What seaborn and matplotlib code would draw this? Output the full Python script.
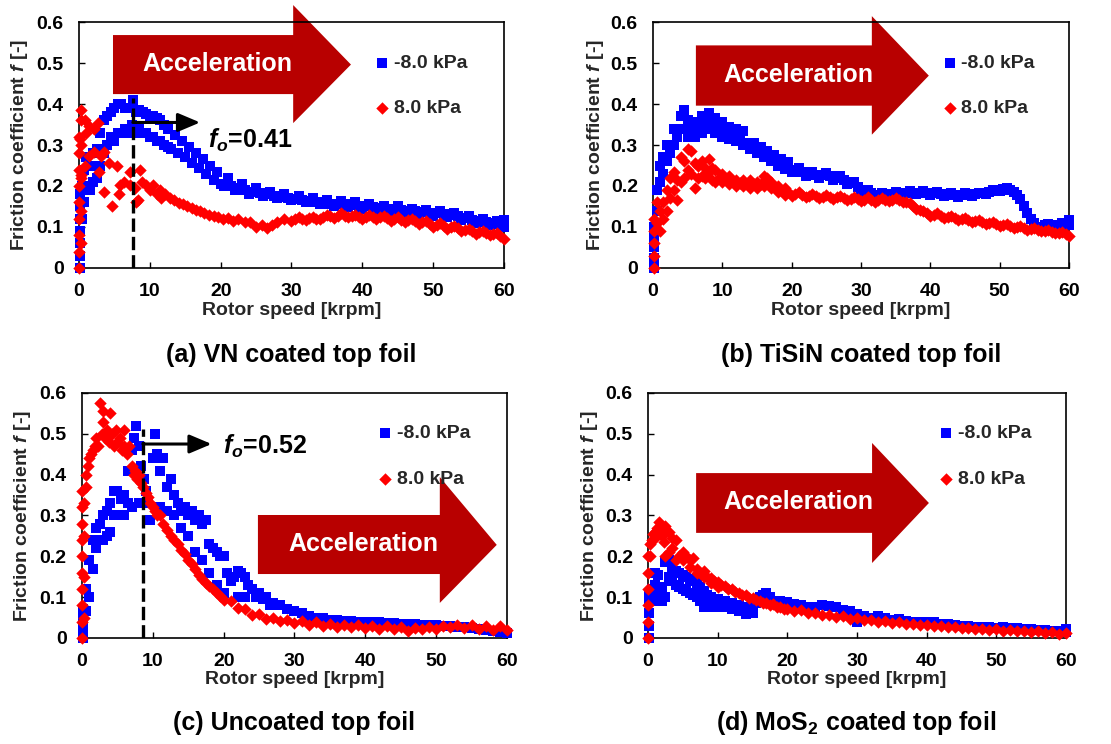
import pandas as pd
import seaborn as sns
import matplotlib.pyplot as plt
from matplotlib.patches import Polygon

# ---- data: (rotor speed [krpm], friction coefficient) ----
vn_neg = [(0.1, 0.0), (0.1, 0.03), (0.1, 0.06), (0.1, 0.09), (0.1, 0.12), (0.1, 0.15), (0.1, 0.18),
          (0.4, 0.12), (0.4, 0.2), (0.7, 0.16), (0.7, 0.24), (1.0, 0.2), (1.0, 0.27), (1.5, 0.19), (1.5, 0.25),
          (2.0, 0.21), (2.0, 0.28), (2.5, 0.22), (2.5, 0.29), (3.0, 0.25), (3.0, 0.33), (3.5, 0.28), (3.5, 0.36),
          (4.0, 0.3), (4.0, 0.37), (4.5, 0.32), (4.5, 0.38), (5.0, 0.31), (5.0, 0.39), (5.5, 0.33), (5.5, 0.4),
          (6.0, 0.33), (6.0, 0.4), (6.5, 0.34), (6.5, 0.39), (7.0, 0.33), (7.0, 0.39), (7.5, 0.35), (7.6, 0.41),
          (8.0, 0.33), (8.0, 0.38), (8.5, 0.34), (8.5, 0.385), (9.0, 0.33), (9.0, 0.38), (9.5, 0.33), (9.5, 0.375),
          (10.0, 0.32), (10.0, 0.37), (10.5, 0.32), (10.5, 0.37), (11.0, 0.31), (11.0, 0.365), (11.5, 0.31),
          (11.5, 0.36), (12.0, 0.3), (12.0, 0.35), (12.5, 0.295), (12.5, 0.34), (13.0, 0.29), (13.5, 0.325),
          (14.0, 0.28), (14.5, 0.31), (15.0, 0.27), (15.5, 0.295), (16.0, 0.255), (16.5, 0.28), (17.0, 0.245),
          (17.5, 0.265), (18.0, 0.23), (18.5, 0.25), (19.0, 0.215), (19.5, 0.235), (20.0, 0.205), (21, 0.22),
          (22, 0.19), (23, 0.205), (24, 0.18), (25, 0.195), (26, 0.175), (27, 0.185), (28, 0.17), (29, 0.18),
          (30, 0.165), (31, 0.175), (32, 0.16), (33, 0.17), (34, 0.155), (35, 0.165), (36, 0.15), (37, 0.163),
          (38, 0.148), (39, 0.16), (40, 0.145), (41, 0.155), (42, 0.14), (43, 0.152), (44, 0.138), (45, 0.15),
          (46, 0.135), (47, 0.145), (48, 0.13), (49, 0.142), (50, 0.128), (51, 0.14), (52, 0.125), (53, 0.133),
          (54, 0.118), (55, 0.127), (56, 0.11), (57, 0.12), (58, 0.105), (59, 0.115), (60, 0.1), (60, 0.118),
          (20.5, 0.2), (21.5, 0.2), (22.5, 0.195), (23.5, 0.19), (24.5, 0.185), (25.5, 0.182), (26.5, 0.18),
          (27.5, 0.176), (28.5, 0.173), (29.5, 0.17), (30.5, 0.168), (31.5, 0.166), (32.5, 0.163), (33.5, 0.16),
          (34.5, 0.16), (35.5, 0.157), (36.5, 0.156), (37.5, 0.155), (38.5, 0.153), (39.5, 0.15), (40.5, 0.15),
          (41.5, 0.148), (42.5, 0.146), (43.5, 0.145), (44.5, 0.143), (45.5, 0.142), (46.5, 0.14), (47.5, 0.138),
          (48.5, 0.136), (49.5, 0.135), (50.5, 0.133), (51.5, 0.132), (52.5, 0.13), (53.5, 0.126), (54.5, 0.122),
          (55.5, 0.118), (56.5, 0.115), (57.5, 0.112), (58.5, 0.11), (59.5, 0.108)]
vn_pos = [(0.05, 0.0), (0.05, 0.04), (0.05, 0.08), (0.05, 0.12), (0.05, 0.16), (0.05, 0.2), (0.05, 0.24),
          (0.05, 0.28), (0.05, 0.32), (0.25, 0.06), (0.25, 0.14), (0.25, 0.22), (0.25, 0.3), (0.25, 0.36),
          (0.1, 0.314), (0.32, 0.386), (0.32, 0.226), (0.78, 0.362), (0.78, 0.25), (1.0, 0.33), (1.47, 0.346),
          (1.47, 0.274), (2.17, 0.338), (2.17, 0.282), (2.63, 0.354), (2.86, 0.234), (3.1, 0.274), (3.55, 0.282),
          (3.55, 0.186), (4.2, 0.255), (4.7, 0.15), (5.4, 0.25), (5.6, 0.18), (5.85, 0.202), (6.3, 0.21),
          (7.2, 0.234), (7.2, 0.202), (7.9, 0.194), (8.1, 0.162), (8.4, 0.166), (8.6, 0.24), (8.85, 0.21),
          (9.5, 0.202), (10.0, 0.19), (10.5, 0.202), (11.0, 0.18), (11.4, 0.19), (11.6, 0.17), (12.2, 0.18),
          (12.8, 0.17), (13.4, 0.165), (14.1, 0.158), (14.7, 0.155), (15.3, 0.15), (15.9, 0.147), (16.5, 0.142),
          (17.1, 0.14), (17.7, 0.133), (18.3, 0.13), (19.0, 0.127), (19.6, 0.124), (20.3, 0.12), (21.0, 0.123),
          (21.7, 0.115), (22.5, 0.12), (23.4, 0.112), (24.2, 0.113), (25.0, 0.1), (25.8, 0.105), (26.5, 0.097),
          (27.3, 0.105), (28.0, 0.113), (29.0, 0.12), (30, 0.115), (31, 0.125), (32, 0.117), (33, 0.125),
          (34, 0.12), (35, 0.13), (36, 0.122), (37, 0.133), (38, 0.125), (39, 0.13), (40, 0.12), (41, 0.13),
          (42, 0.12), (43, 0.128), (44, 0.115), (45, 0.125), (46, 0.113), (47, 0.12), (48, 0.108), (49, 0.115),
          (50, 0.1), (51, 0.11), (52, 0.095), (53, 0.103), (54, 0.09), (55, 0.095), (56, 0.083), (57, 0.09),
          (58, 0.08), (59, 0.085), (60, 0.07),
          (30.5, 0.12), (31.5, 0.12), (32.5, 0.122), (33.5, 0.12), (34.5, 0.125), (35.5, 0.126), (36.5, 0.128),
          (37.5, 0.128), (38.5, 0.127), (39.5, 0.125), (40.5, 0.125), (41.5, 0.125), (42.5, 0.124),
          (43.5, 0.122), (44.5, 0.12), (45.5, 0.118), (46.5, 0.117), (47.5, 0.114), (48.5, 0.112), (49.5, 0.107),
          (50.5, 0.105), (51.5, 0.102), (52.5, 0.1), (53.5, 0.097), (54.5, 0.093), (55.5, 0.09), (56.5, 0.087),
          (57.5, 0.085), (58.5, 0.082), (59.5, 0.078)]

tisin_neg = [(0.1, 0.0), (0.1, 0.025), (0.1, 0.05), (0.1, 0.075), (0.1, 0.1), (0.5, 0.14), (0.5, 0.19),
             (1.0, 0.21), (1.0, 0.25), (1.5, 0.23), (1.5, 0.27), (2.0, 0.26), (2.0, 0.3), (2.5, 0.28), (3.0, 0.3),
             (3.0, 0.34), (3.5, 0.32), (4.0, 0.34), (4.0, 0.37), (4.5, 0.385), (5.0, 0.32), (5.0, 0.36),
             (5.5, 0.34), (6.0, 0.32), (6.0, 0.355), (6.5, 0.34), (7.0, 0.33), (7.0, 0.37), (7.5, 0.35),
             (8.0, 0.34), (8.0, 0.378), (8.5, 0.36), (9.0, 0.33), (9.0, 0.365), (9.5, 0.345), (10.0, 0.32),
             (10.0, 0.355), (10.5, 0.34), (11.0, 0.315), (11.0, 0.345), (11.5, 0.33), (12.0, 0.31), (12.0, 0.34),
             (12.5, 0.32), (13.0, 0.3), (13.0, 0.335), (13.5, 0.305), (14.0, 0.29), (14.5, 0.305), (15.0, 0.28),
             (15.5, 0.295), (16.0, 0.27), (16.5, 0.285), (17.0, 0.26), (17.5, 0.275), (18.0, 0.25), (18.5, 0.265),
             (19.0, 0.242), (19.5, 0.258), (20.0, 0.235), (21, 0.245), (22, 0.225), (23, 0.235), (24, 0.22),
             (25, 0.232), (26, 0.215), (27, 0.225), (28, 0.205), (29, 0.21), (30, 0.185), (31, 0.19), (32, 0.175),
             (33, 0.183), (34, 0.175), (35, 0.185), (36, 0.178), (37, 0.187), (38, 0.18), (39, 0.188), (40, 0.178),
             (41, 0.186), (42, 0.175), (43, 0.182), (44, 0.174), (45, 0.182), (46, 0.176), (47, 0.184), (48, 0.18),
             (49, 0.19), (50, 0.188), (51, 0.196), (52, 0.185), (53, 0.168), (53.5, 0.15), (54, 0.135),
             (54.5, 0.12), (55, 0.11), (55.5, 0.1), (56, 0.1), (57, 0.108), (58, 0.1), (59, 0.11), (60, 0.105),
             (60, 0.118),
             (20.5, 0.24), (21.5, 0.235), (22.5, 0.23), (23.5, 0.228), (24.5, 0.226), (25.5, 0.224), (26.5, 0.22),
             (27.5, 0.215), (28.5, 0.208), (29.5, 0.197), (30.5, 0.188), (31.5, 0.182), (32.5, 0.179),
             (33.5, 0.179), (34.5, 0.18), (35.5, 0.181), (36.5, 0.182), (37.5, 0.183), (38.5, 0.184),
             (39.5, 0.183), (40.5, 0.182), (41.5, 0.18), (42.5, 0.178), (43.5, 0.178), (44.5, 0.178),
             (45.5, 0.179), (46.5, 0.18), (47.5, 0.182), (48.5, 0.185), (49.5, 0.189), (50.5, 0.192),
             (51.5, 0.19), (52.5, 0.177), (56.5, 0.104), (57.5, 0.104), (58.5, 0.105), (59.5, 0.108)]
tisin_pos = [(0.1, 0.0), (0.1, 0.03), (0.1, 0.06), (0.1, 0.09), (0.1, 0.12), (0.5, 0.11), (0.5, 0.16),
             (1.0, 0.09), (1.0, 0.14), (1.5, 0.12), (1.5, 0.16), (2.0, 0.14), (2.0, 0.19), (2.5, 0.17), (2.5, 0.22),
             (3.0, 0.19), (3.0, 0.235), (3.5, 0.165), (3.5, 0.215), (4.0, 0.21), (4.0, 0.27), (4.5, 0.22),
             (4.5, 0.26), (5.0, 0.24), (5.0, 0.29), (5.5, 0.23), (5.5, 0.285), (6.0, 0.195), (6.0, 0.255),
             (6.5, 0.22), (6.5, 0.25), (7.0, 0.225), (7.0, 0.26), (7.5, 0.22), (7.5, 0.245), (8.0, 0.235),
             (8.0, 0.265), (8.5, 0.215), (8.5, 0.245), (9.0, 0.21), (9.0, 0.24), (9.5, 0.22), (10.0, 0.21),
             (10.0, 0.23), (10.5, 0.215), (11.0, 0.205), (11.0, 0.225), (11.5, 0.21), (12.0, 0.2), (12.0, 0.215),
             (12.5, 0.208), (13.0, 0.2), (13.0, 0.215), (13.5, 0.205), (14.0, 0.195), (14.0, 0.215), (14.5, 0.205),
             (15.0, 0.195), (15.0, 0.21), (15.5, 0.205), (16.0, 0.2), (16.0, 0.225), (16.5, 0.22), (17.0, 0.195),
             (17.0, 0.21), (17.5, 0.2), (18.0, 0.185), (18.0, 0.2), (18.5, 0.19), (19.0, 0.178), (19.0, 0.195),
             (19.5, 0.185), (20, 0.175), (21, 0.185), (22, 0.172), (23, 0.18), (24, 0.17), (25, 0.178),
             (26, 0.168), (27, 0.175), (28, 0.165), (29, 0.173), (30, 0.163), (31, 0.172), (32, 0.162), (33, 0.17),
             (34, 0.163), (35, 0.17), (36, 0.16), (37, 0.158), (38, 0.145), (39, 0.14), (40, 0.128), (41, 0.133),
             (42, 0.122), (43, 0.127), (44, 0.118), (45, 0.122), (46, 0.113), (47, 0.118), (48, 0.108),
             (49, 0.112), (50, 0.103), (51, 0.107), (52, 0.098), (53, 0.102), (54, 0.093), (55, 0.097), (56, 0.09),
             (57, 0.093), (58, 0.085), (59, 0.088), (60, 0.078),
             (20.5, 0.18), (21.5, 0.178), (22.5, 0.176), (23.5, 0.175), (24.5, 0.174), (25.5, 0.173),
             (26.5, 0.172), (27.5, 0.17), (28.5, 0.169), (29.5, 0.168), (30.5, 0.167), (31.5, 0.167),
             (32.5, 0.166), (33.5, 0.166), (34.5, 0.166), (35.5, 0.165), (36.5, 0.16), (37.5, 0.152),
             (38.5, 0.142), (39.5, 0.134), (40.5, 0.13), (41.5, 0.127), (42.5, 0.124), (43.5, 0.122), (44.5, 0.12),
             (45.5, 0.117), (46.5, 0.115), (47.5, 0.113), (48.5, 0.11), (49.5, 0.107), (50.5, 0.105),
             (51.5, 0.102), (52.5, 0.1), (53.5, 0.098), (54.5, 0.095), (55.5, 0.093), (56.5, 0.091),
             (57.5, 0.089), (58.5, 0.086), (59.5, 0.083)]

uncoated_neg = [(0.1, 0.0), (0.1, 0.025), (0.1, 0.05), (0.1, 0.07), (0.5, 0.065), (0.5, 0.12), (1.0, 0.1),
                (1.0, 0.19), (1.5, 0.17), (1.5, 0.24), (2.0, 0.22), (2.0, 0.27), (2.5, 0.24), (2.5, 0.28),
                (3.0, 0.24), (3.0, 0.3), (3.5, 0.25), (3.5, 0.31), (4.0, 0.26), (4.0, 0.33), (4.5, 0.3), (4.5, 0.36),
                (5.0, 0.3), (5.0, 0.36), (5.5, 0.3), (5.5, 0.34), (6.0, 0.3), (6.0, 0.35), (6.5, 0.33), (6.5, 0.41),
                (7.0, 0.32), (7.0, 0.46), (7.3, 0.49), (7.6, 0.52), (8.0, 0.33), (8.0, 0.47), (8.3, 0.42),
                (8.7, 0.39), (9.0, 0.36), (9.3, 0.33), (9.6, 0.29), (10.0, 0.44), (10.3, 0.5), (10.6, 0.45),
                (11.0, 0.41), (11.0, 0.32), (11.5, 0.44), (12.0, 0.37), (12.0, 0.31), (12.5, 0.39), (13.0, 0.35),
                (13.0, 0.3), (13.5, 0.33), (14.0, 0.31), (14.0, 0.27), (14.5, 0.32), (15.0, 0.3), (15.0, 0.25),
                (15.5, 0.31), (16.0, 0.29), (16.0, 0.21), (16.5, 0.3), (17.0, 0.28), (17.0, 0.19), (17.5, 0.29),
                (18.0, 0.23), (18.0, 0.16), (18.5, 0.22), (19.0, 0.21), (19.0, 0.13), (19.5, 0.2), (20.0, 0.2),
                (20.0, 0.11), (20.5, 0.16), (21.0, 0.14), (21.5, 0.15), (22.0, 0.165), (22.0, 0.1), (22.5, 0.16),
                (23.0, 0.15), (23.0, 0.1), (23.5, 0.13), (24.0, 0.12), (24.5, 0.1), (25.0, 0.11), (25.5, 0.095),
                (26.0, 0.1), (26.5, 0.08), (27.0, 0.085), (28, 0.08), (29, 0.07), (30, 0.065), (31, 0.06),
                (32, 0.055), (33, 0.05), (34, 0.05), (35, 0.045), (36, 0.045), (37, 0.042), (38, 0.042), (39, 0.04),
                (40, 0.04), (41, 0.038), (42, 0.038), (43, 0.036), (44, 0.036), (45, 0.035), (46, 0.034),
                (47, 0.034), (48, 0.033), (49, 0.032), (50, 0.032), (51, 0.03), (52, 0.03), (53, 0.028), (54, 0.027),
                (55, 0.025), (56, 0.023), (57, 0.02), (58, 0.018), (59, 0.015), (60, 0.012)]
uncoated_pos = [(0.05, 0.0), (0.05, 0.04), (0.05, 0.08), (0.05, 0.12), (0.05, 0.16), (0.05, 0.2), (0.05, 0.24),
                (0.05, 0.28), (0.05, 0.32), (0.05, 0.36), (0.3, 0.05), (0.3, 0.15), (0.3, 0.25), (0.3, 0.33),
                (0.5, 0.37), (0.5, 0.4), (0.8, 0.42), (1.0, 0.44), (1.3, 0.45), (1.5, 0.46), (1.8, 0.47), (2.0, 0.49),
                (2.3, 0.47), (2.5, 0.575), (2.8, 0.5), (3.0, 0.555), (3.0, 0.53), (3.3, 0.49), (3.5, 0.51),
                (3.8, 0.48), (4.0, 0.55), (4.0, 0.5), (4.3, 0.5), (4.5, 0.47), (4.8, 0.51), (5.0, 0.48), (5.3, 0.49),
                (5.6, 0.46), (6.0, 0.51), (6.0, 0.47), (6.3, 0.45), (6.6, 0.47), (7.0, 0.42), (7.3, 0.4), (7.5, 0.41),
                (7.8, 0.39), (8.0, 0.4), (8.3, 0.38), (8.6, 0.37), (9.0, 0.355), (9.3, 0.345), (9.6, 0.33),
                (10.0, 0.32), (10.3, 0.31), (10.6, 0.3), (11.0, 0.3), (11.5, 0.28), (12.0, 0.265), (12.5, 0.25),
                (13.0, 0.24), (13.5, 0.23), (14.0, 0.215), (14.5, 0.205), (15.0, 0.19), (15.5, 0.18), (16.0, 0.17),
                (16.5, 0.155), (17.0, 0.145), (17.5, 0.135), (18.0, 0.128), (18.5, 0.12), (19.0, 0.11),
                (19.5, 0.102), (20.0, 0.093), (21, 0.09), (22, 0.074), (23, 0.07), (24, 0.056), (25, 0.058),
                (26, 0.046), (27, 0.05), (28, 0.041), (29, 0.045), (30, 0.036), (31, 0.041), (32, 0.033), (33, 0.038),
                (34, 0.03), (35, 0.035), (36, 0.028), (37, 0.033), (38, 0.026), (39, 0.031), (40, 0.025), (41, 0.03),
                (42, 0.022), (43, 0.029), (44, 0.021), (45, 0.026), (46, 0.018), (47, 0.024), (48, 0.021),
                (49, 0.028), (50, 0.022), (51, 0.03), (52, 0.027), (53, 0.033), (54, 0.025), (55, 0.032),
                (56, 0.022), (57, 0.03), (58, 0.02), (59, 0.029), (60, 0.02)]

mos2_neg = [(0.1, 0.0), (0.1, 0.03), (0.1, 0.06), (0.1, 0.09), (0.1, 0.11), (0.5, 0.09), (0.5, 0.12), (1.0, 0.13),
            (1.0, 0.16), (1.5, 0.1), (1.5, 0.155), (2.0, 0.09), (2.0, 0.125), (2.5, 0.1), (2.5, 0.185), (3.0, 0.15),
            (3.0, 0.19), (3.5, 0.14), (3.5, 0.175), (4.0, 0.13), (4.0, 0.165), (4.5, 0.125), (4.5, 0.16),
            (5.0, 0.12), (5.0, 0.155), (5.5, 0.115), (5.5, 0.15), (6.0, 0.11), (6.0, 0.145), (6.5, 0.105),
            (6.5, 0.14), (7.0, 0.1), (7.0, 0.135), (7.5, 0.09), (7.5, 0.125), (8.0, 0.075), (8.0, 0.115),
            (8.5, 0.08), (8.5, 0.105), (9.0, 0.075), (9.0, 0.1), (9.5, 0.08), (10.0, 0.075), (10.0, 0.095),
            (10.5, 0.08), (11.0, 0.075), (11.0, 0.09), (11.5, 0.08), (12.0, 0.07), (12.0, 0.085), (12.5, 0.075),
            (13.0, 0.065), (13.0, 0.08), (13.5, 0.07), (14.0, 0.058), (14.0, 0.075), (14.5, 0.065), (15.0, 0.06),
            (15.5, 0.085), (16.0, 0.1), (16.5, 0.105), (17.0, 0.11), (17.5, 0.1), (18.0, 0.09), (18.5, 0.085),
            (19.0, 0.09), (19.5, 0.082), (20.0, 0.088), (21, 0.082), (22, 0.08), (23, 0.075), (24, 0.075),
            (25, 0.08), (26, 0.078), (27, 0.075), (28, 0.068), (29, 0.065), (30, 0.04), (30, 0.058), (31, 0.055),
            (32, 0.05), (33, 0.055), (34, 0.048), (35, 0.045), (36, 0.047), (37, 0.042), (38, 0.04), (39, 0.04),
            (40, 0.038), (41, 0.038), (42, 0.035), (43, 0.035), (44, 0.032), (45, 0.03), (46, 0.03), (47, 0.028),
            (48, 0.028), (49, 0.027), (50, 0.025), (51, 0.026), (52, 0.024), (53, 0.024), (54, 0.022),
            (55, 0.022), (56, 0.02), (57, 0.02), (58, 0.018), (59, 0.018), (60, 0.015), (60, 0.022)]
mos2_pos = [(0.05, 0.0), (0.05, 0.04), (0.05, 0.08), (0.05, 0.12), (0.05, 0.16), (0.05, 0.2), (0.3, 0.2),
            (0.3, 0.23), (0.5, 0.24), (0.7, 0.255), (1.0, 0.26), (1.0, 0.245), (1.3, 0.27), (1.6, 0.285),
            (2.0, 0.27), (2.0, 0.25), (2.3, 0.235), (2.5, 0.275), (2.5, 0.2), (3.0, 0.26), (3.0, 0.21),
            (3.5, 0.245), (3.5, 0.22), (4.0, 0.24), (4.0, 0.19), (4.5, 0.2), (5.0, 0.21), (5.0, 0.19), (5.5, 0.2),
            (6.0, 0.19), (6.0, 0.175), (6.5, 0.195), (7.0, 0.17), (7.0, 0.16), (7.5, 0.16), (8.0, 0.165),
            (8.0, 0.15), (8.5, 0.15), (9.0, 0.148), (9.0, 0.135), (9.5, 0.14), (10.0, 0.138), (10.0, 0.125),
            (10.5, 0.13), (11.0, 0.128), (11.5, 0.12), (12.0, 0.12), (12.5, 0.112), (13.0, 0.11), (13.5, 0.105),
            (14.0, 0.105), (14.5, 0.098), (15.0, 0.097), (15.5, 0.092), (16.0, 0.09), (16.5, 0.085), (17.0, 0.086),
            (17.5, 0.08), (18.0, 0.082), (18.5, 0.077), (19.0, 0.077), (19.5, 0.072), (20.0, 0.072), (21, 0.066),
            (22, 0.068), (23, 0.062), (24, 0.062), (25, 0.056), (26, 0.057), (27, 0.052), (28, 0.053),
            (29, 0.047), (30, 0.048), (31, 0.043), (32, 0.045), (33, 0.04), (34, 0.041), (35, 0.037), (36, 0.038),
            (37, 0.034), (38, 0.035), (39, 0.031), (40, 0.032), (41, 0.029), (42, 0.03), (43, 0.026), (44, 0.028),
            (45, 0.024), (46, 0.025), (47, 0.022), (48, 0.023), (49, 0.02), (50, 0.021), (51, 0.018), (52, 0.02),
            (53, 0.017), (54, 0.018), (55, 0.015), (56, 0.016), (57, 0.013), (58, 0.015), (59, 0.01), (60, 0.012)]

titles = ['(a) VN coated top foil', '(b) TiSiN coated top foil',
          '(c) Uncoated top foil', '(d) MoS$_2$ coated top foil']
series_labels = ['-8.0 kPa', '8.0 kPa']
y_ticks = [0, 0.1, 0.2, 0.3, 0.4, 0.5, 0.6]
y_tick_labels = ['0', '0.1', '0.2', '0.3', '0.4', '0.5', '0.6']
x_ticks = [0, 10, 20, 30, 40, 50, 60]

# ---- style ----
sns.set_theme(style='ticks')
plt.rcParams['font.family'] = ['Liberation Sans', 'DejaVu Sans']
plt.rcParams['font.weight'] = 'bold'
plt.rcParams['mathtext.fontset'] = 'custom'
plt.rcParams['mathtext.rm'] = 'Liberation Sans:bold'
plt.rcParams['mathtext.it'] = 'Liberation Sans:bold:italic'
plt.rcParams['mathtext.bf'] = 'Liberation Sans:bold'

ARROW_RED = '#B80000'

# panel layout: axes rect, big arrow (body left, body right, tip x, body top, body bottom,
# head top, head bottom, tip y) and its text position, all in axes fractions
layout = [
    dict(rect=[0.0711, 0.6398, 0.3825, 0.3306], data=(vn_neg, vn_pos),
         arrow=(0.08, 0.504, 0.64, 0.947, 0.707, 1.069, 0.589, 0.827), text=(0.325, 0.83),
         fo=(7.6, 0.415, 0.355, 17.1, 18.2, 0.312, '0.41'), title=(0.262, 0.523)),
    dict(rect=[0.5878, 0.6398, 0.3744, 0.3306], data=(tisin_neg, tisin_pos),
         arrow=(0.103, 0.526, 0.663, 0.905, 0.66, 1.024, 0.542, 0.782), text=(0.349, 0.785),
         fo=None, title=(0.775, 0.523)),
    dict(rect=[0.0738, 0.1425, 0.3825, 0.3293], data=(uncoated_neg, uncoated_pos),
         arrow=(0.414, 0.842, 0.976, 0.502, 0.261, 0.657, 0.143, 0.38), text=(0.661, 0.385),
         fo=(8.6, 0.513, 0.475, 18.3, 19.9, 0.468, '0.52'), title=(0.265, 0.028)),
    dict(rect=[0.5833, 0.1425, 0.3762, 0.3293], data=(mos2_neg, mos2_pos),
         arrow=(0.115, 0.536, 0.672, 0.673, 0.429, 0.796, 0.306, 0.551), text=(0.359, 0.555),
         fo=None, title=(0.771, 0.028)),
]

fig = plt.figure(figsize=(11.11, 7.44), dpi=100)
fig.patch.set_facecolor('white')

for spec, title in zip(layout, titles):
    ax = fig.add_axes(spec['rect'])
    neg, pos = spec['data']
    styles = [(neg, 's', '#0000FF', 62, series_labels[0]),
              (pos, 'D', '#FF0000', 40, series_labels[1])]
    for pts, marker, color, size, label in styles:
        df = pd.DataFrame(pts, columns=['speed', 'friction'])
        sns.scatterplot(data=df, x='speed', y='friction', marker=marker, color=color,
                        s=size, linewidth=0, ax=ax, label=label, zorder=3, clip_on=False)

    ax.set_xlim(0, 60)
    ax.set_ylim(0, 0.6)
    ax.set_xticks(x_ticks)
    ax.set_yticks(y_ticks)
    ax.set_yticklabels(y_tick_labels)
    ax.tick_params(direction='in', length=4, width=1, labelsize=14, colors='black')
    ax.tick_params(axis='x', pad=11)
    ax.tick_params(axis='y', pad=11)
    for sp in ax.spines.values():
        sp.set_visible(True)
        sp.set_color('black')
        sp.set_linewidth(1.2)

    ax.set_xlabel('Rotor speed [krpm]', fontsize=14, fontweight='bold')
    ax.xaxis.set_label_coords(0.5, -0.171)
    ax.xaxis.label.set_va('center')
    ax.set_ylabel('Friction coefficient $f$ [-]', fontsize=14, fontweight='bold')
    ax.yaxis.set_label_coords(-0.139, 0.5)
    ax.yaxis.label.set_va('center')

    ax.legend(loc='upper left', bbox_to_anchor=(0.69, 0.87), frameon=False, fontsize=14,
              labelspacing=1.45, handletextpad=0.1, handlelength=1.0, borderaxespad=0,
              borderpad=0, markerscale=1.0)

    bl, br, tip, bt, bb, ht, hb, ty = spec['arrow']
    arrow = Polygon([(bl, bb), (br, bb), (br, hb), (tip, ty), (br, ht), (br, bt), (bl, bt)],
                    closed=True, transform=ax.transAxes, facecolor=ARROW_RED,
                    edgecolor='none', clip_on=False, zorder=2)
    ax.add_patch(arrow)
    ax.text(*spec['text'], 'Acceleration', transform=ax.transAxes, ha='center', va='center',
            color='white', fontsize=18, fontweight='bold', zorder=5)

    if spec['fo'] is not None:
        xv, ytop, ya, xa, xt, yt, val = spec['fo']
        ax.plot([xv, xv], [0, ytop], color='black', lw=2.4, linestyle=(0, (4, 1.5)), zorder=4)
        ax.annotate('', xy=(xa, ya), xytext=(xv, ya),
                    arrowprops=dict(arrowstyle='-|>,head_length=0.9,head_width=0.38',
                                    color='black', lw=2.2, shrinkA=0, shrinkB=0,
                                    mutation_scale=15), zorder=4)
        ax.text(xt, yt, '$f_o$=' + val, ha='left', va='center', fontsize=18,
                fontweight='bold', color='black', zorder=5)

    fig.text(spec['title'][0], spec['title'][1], title, ha='center', va='center',
             fontsize=18, fontweight='bold', color='black')

fig.savefig('out.png', dpi=100, facecolor='white')
